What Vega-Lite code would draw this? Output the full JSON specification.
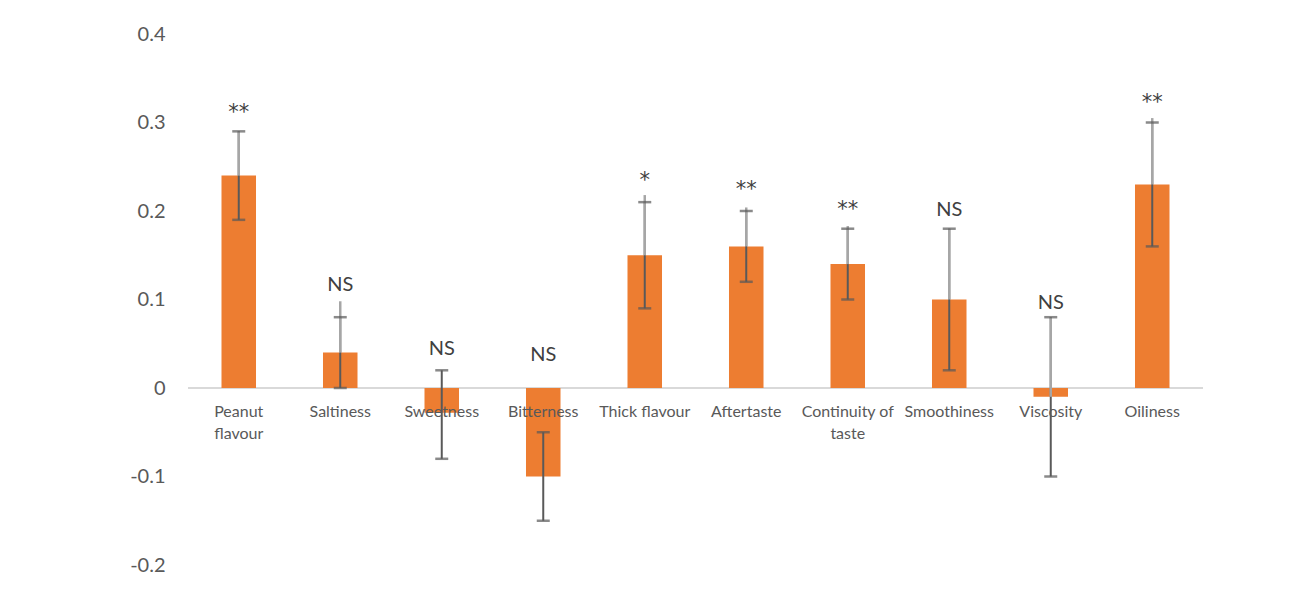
{
  "$schema": "https://vega.github.io/schema/vega-lite/v6.json",
  "autosize": "none",
  "width": 1015,
  "height": 531,
  "padding": {"left": 188, "top": 34, "right": 89, "bottom": 33},
  "background": "white",
  "config": {"view": {"stroke": null}, "font": "Lato"},
  "data": {
    "values": [
      {"cat": "Peanut flavour", "label": "Peanut\nflavour", "value": 0.24, "lower": 0.19, "upper": 0.29, "lead_from": 0.29, "lead_to": 0.24, "sig": "**", "sig_y": 0.316},
      {"cat": "Saltiness", "label": "Saltiness", "value": 0.04, "lower": 0.0, "upper": 0.08, "lead_from": 0.098, "lead_to": 0.04, "sig": "NS", "sig_y": 0.116},
      {"cat": "Sweetness", "label": "Sweetness", "value": -0.028, "lower": -0.08, "upper": 0.02, "lead_from": null, "lead_to": null, "sig": "NS", "sig_y": 0.044},
      {"cat": "Bitterness", "label": "Bitterness", "value": -0.1, "lower": -0.15, "upper": -0.05, "lead_from": null, "lead_to": null, "sig": "NS", "sig_y": 0.037},
      {"cat": "Thick flavour", "label": "Thick flavour", "value": 0.15, "lower": 0.09, "upper": 0.21, "lead_from": 0.218, "lead_to": 0.15, "sig": "*", "sig_y": 0.24},
      {"cat": "Aftertaste", "label": "Aftertaste", "value": 0.16, "lower": 0.12, "upper": 0.2, "lead_from": 0.204, "lead_to": 0.16, "sig": "**", "sig_y": 0.229},
      {"cat": "Continuity of taste", "label": "Continuity of\ntaste", "value": 0.14, "lower": 0.1, "upper": 0.18, "lead_from": 0.183, "lead_to": 0.14, "sig": "**", "sig_y": 0.207},
      {"cat": "Smoothiness", "label": "Smoothiness", "value": 0.1, "lower": 0.02, "upper": 0.18, "lead_from": 0.18, "lead_to": 0.1, "sig": "NS", "sig_y": 0.201},
      {"cat": "Viscosity", "label": "Viscosity", "value": -0.01, "lower": -0.1, "upper": 0.08, "lead_from": 0.08, "lead_to": -0.01, "sig": "NS", "sig_y": 0.096},
      {"cat": "Oiliness", "label": "Oiliness", "value": 0.23, "lower": 0.16, "upper": 0.3, "lead_from": 0.305, "lead_to": 0.23, "sig": "**", "sig_y": 0.328}
    ]
  },
  "encoding": {
    "x": {
      "field": "cat",
      "type": "nominal",
      "sort": null,
      "axis": null,
      "scale": {"paddingInner": 0.66, "paddingOuter": 0.33}
    }
  },
  "layer": [
    {
      "mark": {"type": "rule", "color": "#D9D9D9", "strokeWidth": 1.5},
      "encoding": {"x": null, "y": {"datum": 0, "type": "quantitative"}}
    },
    {
      "mark": {"type": "bar", "color": "#ED7D31"},
      "encoding": {
        "y": {
          "field": "value",
          "type": "quantitative",
          "scale": {"domain": [-0.2, 0.4], "nice": false, "zero": false},
          "axis": {
            "title": null,
            "grid": false,
            "domain": false,
            "ticks": false,
            "values": [-0.2, -0.1, 0, 0.1, 0.2, 0.3, 0.4],
            "labelExpr": "datum.value == 0 ? '0' : (datum.value < 0 ? '-' : '') + format(abs(datum.value), '.1f')",
            "labelFontSize": 20,
            "labelColor": "#595959",
            "labelPadding": 23,
            "labelFont": "Lato"
          }
        }
      }
    },
    {
      "mark": {"type": "rule", "color": "#595959", "strokeWidth": 2},
      "encoding": {
        "y": {"field": "lower", "type": "quantitative"},
        "y2": {"field": "upper"}
      }
    },
    {
      "transform": [{"filter": "datum.lead_from != null"}],
      "mark": {"type": "rule", "color": "#A6A6A6", "strokeWidth": 2.5},
      "encoding": {
        "y": {"field": "lead_from", "type": "quantitative"},
        "y2": {"field": "lead_to"}
      }
    },
    {
      "mark": {"type": "tick", "color": "#595959", "size": 13, "thickness": 2.5, "orient": "horizontal"},
      "encoding": {"y": {"field": "lower", "type": "quantitative"}}
    },
    {
      "mark": {"type": "tick", "color": "#595959", "size": 13, "thickness": 2.5, "orient": "horizontal"},
      "encoding": {"y": {"field": "upper", "type": "quantitative"}}
    },
    {
      "transform": [{"filter": "datum.sig == 'NS'"}],
      "mark": {"type": "text", "fontSize": 20, "color": "#404040", "baseline": "middle", "font": "Lato"},
      "encoding": {
        "y": {"field": "sig_y", "type": "quantitative"},
        "text": {"field": "sig"}
      }
    },
    {
      "transform": [{"filter": "datum.sig != 'NS'"}],
      "mark": {"type": "text", "fontSize": 21, "color": "#404040", "baseline": "middle", "dy": 5, "font": "DejaVu Sans"},
      "encoding": {
        "y": {"field": "sig_y", "type": "quantitative"},
        "text": {"field": "sig"}
      }
    },
    {
      "mark": {"type": "text", "fontSize": 16, "color": "#595959", "baseline": "top", "dy": 16, "lineBreak": "\n", "lineHeight": 22, "font": "Lato"},
      "encoding": {
        "y": {"datum": 0, "type": "quantitative"},
        "text": {"field": "label"}
      }
    }
  ]
}
